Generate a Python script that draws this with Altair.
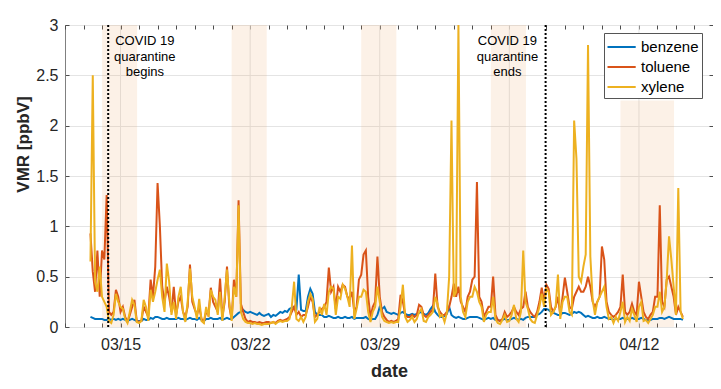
import altair as alt
import pandas as pd

# ---------------- data ----------------
series_names = ["benzene", "toluene", "xylene"]
series_colors = ["#0072BD", "#D95319", "#EDB120"]

sample_start = "2020-03-13 09:00"   # first sample, then every 3 hours
sample_step = "3h"

benzene = [
    0.1, 0.09, 0.08, 0.08, 0.08,                      # 03/13 (09h-21h)
    0.08, 0.07, 0.07, 0.08, 0.07, 0.08, 0.07, 0.08,   # 03/14
    0.07, 0.08, 0.07, 0.06, 0.07, 0.08, 0.07, 0.06,   # 03/15
    0.06, 0.06, 0.08, 0.07, 0.07, 0.09, 0.08, 0.1,    # 03/16
    0.1, 0.09, 0.08, 0.08, 0.09, 0.08, 0.08, 0.08,    # 03/17
    0.08, 0.09, 0.08, 0.08, 0.07, 0.08, 0.09, 0.08,   # 03/18
    0.08, 0.07, 0.09, 0.07, 0.06, 0.08, 0.08, 0.09,   # 03/19
    0.08, 0.08, 0.08, 0.09, 0.07, 0.08, 0.09, 0.08,   # 03/20
    0.08, 0.1, 0.12, 0.14, 0.15, 0.17, 0.15, 0.14,    # 03/21
    0.15, 0.14, 0.13, 0.12, 0.14, 0.12, 0.11, 0.12,   # 03/22
    0.13, 0.1, 0.12, 0.11, 0.13, 0.15, 0.14, 0.16,    # 03/23
    0.15, 0.18, 0.19, 0.2, 0.18, 0.52, 0.17, 0.16,    # 03/24
    0.16, 0.3, 0.38, 0.33, 0.15, 0.12, 0.12, 0.12,    # 03/25
    0.1, 0.1, 0.11, 0.1, 0.09, 0.09, 0.1, 0.09,       # 03/26
    0.09, 0.1, 0.09, 0.09, 0.1, 0.08, 0.09, 0.09,     # 03/27
    0.09, 0.09, 0.1, 0.08, 0.07, 0.08, 0.08, 0.12,    # 03/28
    0.2, 0.18, 0.2, 0.15, 0.14, 0.13, 0.14, 0.13,     # 03/29
    0.12, 0.14, 0.15, 0.13, 0.12, 0.12, 0.13, 0.12,   # 03/30
    0.13, 0.14, 0.15, 0.13, 0.12, 0.14, 0.18, 0.21,   # 03/31
    0.15, 0.12, 0.1, 0.1, 0.11, 0.13, 0.2, 0.12,      # 04/01
    0.1, 0.09, 0.1, 0.09, 0.08, 0.08, 0.09, 0.1,      # 04/02
    0.1, 0.1, 0.1, 0.09, 0.08, 0.07, 0.08, 0.09,      # 04/03
    0.08, 0.09, 0.07, 0.07, 0.06, 0.07, 0.08, 0.07,   # 04/04
    0.07, 0.08, 0.09, 0.08, 0.07, 0.08, 0.07, 0.09,   # 04/05
    0.1, 0.1, 0.1, 0.1, 0.12, 0.13, 0.15, 0.18,       # 04/06
    0.18, 0.17, 0.15, 0.14, 0.13, 0.12, 0.12, 0.14,   # 04/07
    0.14, 0.13, 0.12, 0.13, 0.15, 0.14, 0.15, 0.14,   # 04/08
    0.12, 0.1, 0.11, 0.1, 0.09, 0.09, 0.1, 0.09,      # 04/09
    0.09, 0.1, 0.09, 0.08, 0.08, 0.07, 0.08, 0.08,    # 04/10
    0.08, 0.09, 0.08, 0.08, 0.08, 0.09, 0.08, 0.08,   # 04/11
    0.08, 0.09, 0.08, 0.07, 0.07, 0.07, 0.08, 0.08,   # 04/12
    0.08, 0.09, 0.09, 0.08, 0.09, 0.1, 0.09, 0.08,    # 04/13
    0.08, 0.08, 0.08, 0.07,                           # 04/14 (00h-09h)
]

toluene = [
    0.93, 0.55, 0.35, 0.76, 0.3,
    0.76, 0.67, 1.31, 0.15, 0.12, 0.15, 0.37, 0.3,
    0.15, 0.2, 0.1, 0.05, 0.12, 0.2, 0.27, 0.06,
    0.05, 0.06, 0.2, 0.15, 0.1, 0.47, 0.3, 0.6,
    1.43, 1.0, 0.4, 0.25, 0.4, 0.3, 0.15, 0.4,
    0.12, 0.25, 0.3, 0.15, 0.1, 0.2, 0.62, 0.25,
    0.18, 0.12, 0.2, 0.08, 0.05, 0.15, 0.12, 0.39,
    0.25, 0.2, 0.15, 0.48, 0.1, 0.25, 0.6, 0.2,
    0.08, 0.47, 0.3, 1.26, 0.23, 0.15, 0.08, 0.05,
    0.06, 0.05, 0.05, 0.04, 0.05, 0.04, 0.04, 0.05,
    0.05, 0.04, 0.05, 0.04, 0.06, 0.07, 0.06, 0.07,
    0.08, 0.1, 0.15, 0.2, 0.12, 0.15, 0.1, 0.12,
    0.12, 0.2, 0.3, 0.25, 0.1, 0.12, 0.15, 0.18,
    0.2, 0.25, 0.59, 0.35, 0.4, 0.18, 0.4, 0.35,
    0.42, 0.4, 0.3, 0.28, 0.35, 0.15, 0.2, 0.47,
    0.52, 0.72, 0.76, 0.3, 0.1, 0.2, 0.25, 0.7,
    0.3, 0.15, 0.1, 0.07, 0.05, 0.06, 0.05, 0.06,
    0.08, 0.32, 0.25, 0.12, 0.1, 0.1, 0.12, 0.1,
    0.12, 0.22, 0.2, 0.12, 0.1, 0.12, 0.15, 0.18,
    0.53, 0.2, 0.15, 0.12, 0.12, 0.15, 0.2, 0.3,
    0.43, 0.3, 0.4, 0.25, 0.2, 0.15, 0.3, 0.35,
    0.47, 0.5, 1.44, 0.3, 0.25, 0.1, 0.15, 0.2,
    0.2, 0.5, 0.12, 0.07, 0.06, 0.08, 0.15, 0.1,
    0.12, 0.15, 0.2, 0.15, 0.12, 0.18, 0.2, 0.35,
    0.2, 0.15, 0.12, 0.1, 0.15, 0.25, 0.39, 0.25,
    0.42, 0.38, 0.2, 0.15, 0.2, 0.3, 0.12, 0.3,
    0.49, 0.35, 0.2, 0.18, 0.3, 0.35, 0.4, 0.35,
    0.35, 0.4, 0.5, 0.4, 0.25, 0.2, 0.25, 0.3,
    0.8, 0.67, 0.25, 0.15, 0.12, 0.1, 0.12, 0.15,
    0.2, 0.52, 0.15, 0.12, 0.15, 0.23, 0.15, 0.12,
    0.45, 0.3, 0.15, 0.1, 0.08, 0.12, 0.15, 0.3,
    0.3, 1.21, 0.25, 0.2, 0.47, 0.5, 0.4, 0.3,
    0.12, 0.2, 0.15, 0.1,
]

xylene = [
    0.65, 2.5, 0.45, 0.35, 0.6,
    0.3, 0.25, 0.2, 0.06, 0.04, 0.12, 0.33, 0.25,
    0.2, 0.18, 0.08, 0.04, 0.15, 0.27, 0.22, 0.05,
    0.04, 0.06, 0.27, 0.2, 0.06, 0.37, 0.25, 0.35,
    0.47, 0.57, 0.3, 0.15, 0.63, 0.45, 0.12, 0.25,
    0.08, 0.3, 0.4, 0.15, 0.05, 0.25, 0.58, 0.3,
    0.2, 0.08, 0.28, 0.06, 0.04, 0.2, 0.1, 0.37,
    0.3, 0.27, 0.12, 0.35, 0.06, 0.3, 0.57, 0.25,
    0.06, 0.4, 0.3, 1.21, 0.15, 0.08, 0.05, 0.04,
    0.04, 0.03, 0.04, 0.03, 0.03, 0.02, 0.03, 0.03,
    0.03, 0.04, 0.05, 0.03, 0.05, 0.06, 0.05, 0.06,
    0.06, 0.08, 0.2, 0.45, 0.08, 0.06, 0.1, 0.05,
    0.1, 0.25, 0.33, 0.28, 0.05, 0.08, 0.2, 0.12,
    0.23, 0.12, 0.35, 0.4, 0.38, 0.12, 0.3, 0.28,
    0.42, 0.38, 0.3, 0.2, 0.81, 0.08, 0.18, 0.3,
    0.3, 0.37, 0.35, 0.15, 0.05, 0.15, 0.2, 0.4,
    0.25, 0.1, 0.06, 0.05, 0.04, 0.05, 0.04, 0.05,
    0.05, 0.2, 0.42, 0.1, 0.05, 0.07, 0.1, 0.05,
    0.08, 0.15, 0.18, 0.06, 0.05, 0.1, 0.12, 0.15,
    0.3, 0.23, 0.1, 0.12, 0.05, 0.14, 0.5, 2.05,
    0.3, 0.35, 3.0, 0.3, 0.15, 0.1, 0.25, 0.3,
    0.3, 0.4, 0.35, 0.25, 0.2, 0.05, 0.12, 0.15,
    0.15, 0.3, 0.08, 0.04, 0.03, 0.07, 0.12, 0.05,
    0.06, 0.12, 0.22, 0.08, 0.05, 0.15, 0.76, 0.25,
    0.18, 0.08, 0.05, 0.04, 0.12, 0.2, 0.33, 0.2,
    0.38, 0.35, 0.12, 0.15, 0.2, 0.52, 0.08, 0.25,
    0.3, 0.3, 0.15, 0.12, 2.05, 1.67, 0.5, 0.45,
    0.6, 0.72, 2.8, 0.7, 0.27, 0.12, 0.25, 0.3,
    0.35, 0.4, 0.2, 0.08, 0.1, 0.04, 0.1, 0.06,
    0.15, 0.25, 0.05, 0.1, 0.06, 0.18, 0.12, 0.05,
    0.2, 0.25, 0.06, 0.07, 0.04, 0.08, 0.12, 0.2,
    0.2, 0.35, 0.15, 0.2, 0.47, 0.9, 0.67, 0.4,
    0.12, 1.38, 0.15, 0.08,
]

week_labels = ["03/15", "03/22", "03/29", "04/05", "04/12"]
week_ticks = ["2020-03-15", "2020-03-22", "2020-03-29", "2020-04-05", "2020-04-12"]
y_ticks = [0, 0.5, 1, 1.5, 2, 2.5, 3]

band_start = ["2020-03-14 00:00", "2020-03-21 00:00", "2020-03-28 00:00",
              "2020-04-04 00:00", "2020-04-11 00:00"]
band_end = ["2020-03-15 21:30", "2020-03-22 21:30", "2020-03-29 21:30",
            "2020-04-05 21:30", "2020-04-13 21:30"]
band_top = [3, 3, 3, 3, 2.25]

event_times = ["2020-03-14 08:00", "2020-04-06 23:00"]

note_times = ["2020-03-16 07:30"] * 3 + ["2020-04-04 21:30"] * 3
note_levels = [2.84, 2.68, 2.53, 2.84, 2.68, 2.53]
note_texts = ["COVID 19", "quarantine", "begins", "COVID 19", "quarantine", "ends"]

# ---------------- tables ----------------
times = pd.date_range(sample_start, periods=len(benzene), freq=sample_step)
parts = []
for name, vals in zip(series_names, [benzene, toluene, xylene]):
    parts.append(pd.DataFrame({"t": times[:len(vals)], "series": name, "value": vals}))
lines_df = pd.concat(parts, ignore_index=True)

bands_df = pd.DataFrame({"t0": pd.to_datetime(band_start), "t1": pd.to_datetime(band_end),
                         "top": band_top, "bottom": [0] * len(band_top)})
events_df = pd.DataFrame({"t": pd.to_datetime(event_times)})
weeks_df = pd.DataFrame({"t": pd.to_datetime(week_ticks)})
notes_df = pd.DataFrame({"t": pd.to_datetime(note_times), "v": note_levels, "txt": note_texts})

days = pd.date_range("2020-03-12", "2020-04-16", freq="D")
daily = [alt.DateTime(year=d.year, month=d.month, date=d.day) for d in days]
xscale = alt.Scale(domain=[daily[0], daily[-1]])
yscale = alt.Scale(domain=[0, 3], nice=False)

FONT = "Liberation Sans"
TXT = "#262626"
TICK = "#4d4d4d"
INWARD = alt.ExprRef(expr="-4")   # ticks drawn inside the box, as in the reference
label_list = "[" + ",".join("'" + s + "'" for s in week_labels) + "]"
label_expr = ("indexof(" + label_list + ", timeFormat(datum.value, '%m/%d')) >= 0 ? "
              "timeFormat(datum.value, '%m/%d') : ''")

bottom_axis = alt.Axis(orient="bottom", values=daily, labelExpr=label_expr, grid=False,
                       domain=False, tickSize=INWARD, tickColor=TICK,
                       labelOverlap=False, labelFlush=False, labelFontSize=16,
                       labelColor=TXT, labelFont=FONT, labelPadding=13,
                       title="date", titleFontSize=18, titleFontWeight="bold",
                       titleColor=TXT, titleFont=FONT, titleY=44,
                       titleBaseline="middle")
left_axis = alt.Axis(orient="left", values=y_ticks, labelExpr="toString(datum.value)",
                     grid=True, gridColor="#e4e4e4", domain=False, tickSize=INWARD,
                     tickColor=TICK, labelFontSize=16, labelColor=TXT, labelFont=FONT,
                     labelPadding=11, title="VMR [ppbV]", titleFontSize=17,
                     titleFontWeight="bold", titleColor=TXT, titleFont=FONT,
                     titleX=-42, titleY=119, titleAngle=270, titleAlign="center",
                     titleBaseline="middle")
top_axis = alt.Axis(orient="top", values=daily, labels=False, grid=False, domain=False,
                    tickSize=INWARD, tickColor=TICK, title=None)
right_axis = alt.Axis(orient="right", values=y_ticks, labels=False, grid=False,
                      domain=False, tickSize=INWARD, tickColor=TICK, title=None)

color_scale = alt.Scale(domain=series_names, range=series_colors)
legend = alt.Legend(orient="none", legendX=539, legendY=8, title=None,
                    symbolType="M-1.05,0H1.77", symbolSize=400, symbolStrokeWidth=2,
                    labelFontSize=15, labelFont=FONT, labelColor="black",
                    fillColor="white", strokeColor="#555555", padding=3,
                    rowPadding=1, labelOffset=12)

# ---------------- layers ----------------
vgrid = alt.Chart(weeks_df).mark_rule(color="#e4e4e4", strokeWidth=1).encode(
    x=alt.X("t:T", scale=xscale, axis=top_axis)
)

bands = alt.Chart(bands_df).mark_rect(color="#E8A060", opacity=0.15).encode(
    x=alt.X("t0:T", scale=xscale, axis=None),
    x2="t1:T",
    y=alt.Y("top:Q", scale=yscale, axis=right_axis),
    y2="bottom:Q",
)

line_layers = []
for i, name in enumerate(series_names):
    line_layers.append(
        alt.Chart(lines_df).transform_filter(alt.datum.series == name)
        .mark_line(strokeWidth=2, clip=True)
        .encode(
            x=alt.X("t:T", scale=xscale, axis=bottom_axis if i == 0 else None),
            y=alt.Y("value:Q", scale=yscale, axis=left_axis if i == 0 else None),
            color=alt.Color("series:N", scale=color_scale, legend=legend),
        )
    )

events = alt.Chart(events_df).mark_rule(color="black", strokeWidth=2, strokeDash=[2, 2]).encode(
    x=alt.X("t:T", scale=xscale, axis=None)
)

notes = alt.Chart(notes_df).mark_text(fontSize=13, font=FONT, color="black",
                                      align="center", baseline="middle").encode(
    x=alt.X("t:T", scale=xscale, axis=None),
    y=alt.Y("v:Q", scale=yscale, axis=None),
    text="txt:N",
)

chart = alt.layer(vgrid, bands, *line_layers, events, notes).resolve_axis(
    x="independent", y="independent"
).properties(
    width=648, height=302,
    autosize=alt.AutoSizeParams(type="none"),
    padding={"left": 57, "top": 17, "right": 0, "bottom": 54},
    background="white",
).configure_view(stroke="#808080", strokeWidth=1)

chart.save("out.html", embed_options={"renderer": "svg", "actions": False})
